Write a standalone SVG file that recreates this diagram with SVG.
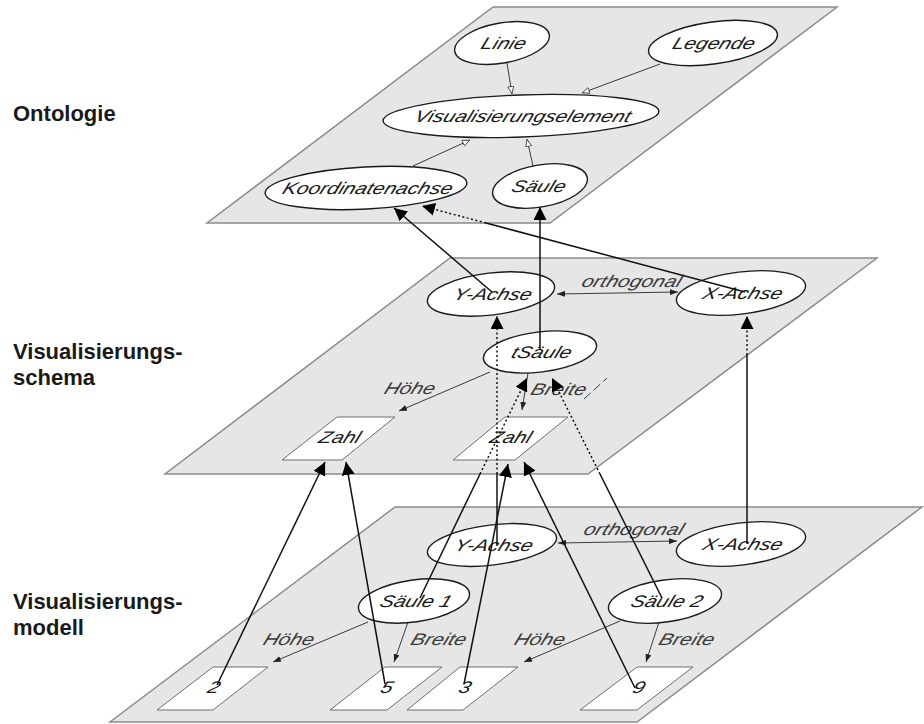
<svg xmlns="http://www.w3.org/2000/svg" width="924" height="724" viewBox="0 0 924 724">
  <style>
    .plane { fill: #e6e6e6; stroke: #8c8c8c; stroke-width: 1.5; }
    .node { fill: #ffffff; stroke: #1a1a1a; stroke-width: 1.4; }
    .box { fill: #ffffff; stroke: #6e6e6e; stroke-width: 1; }
    .nt { font-family: "Liberation Sans", Arial, sans-serif; font-size: 21px; font-style: italic; fill: #1a1a1a; text-anchor: middle; }
    .et { font-family: "Liberation Sans", Arial, sans-serif; font-size: 21px; font-style: italic; fill: #3a3a3a; text-anchor: middle; }
    .lv { font-family: "Liberation Sans", Arial, sans-serif; font-size: 22px; font-weight: bold; fill: #1a1a1a; }
    .link { stroke: #111; stroke-width: 1.5; fill: none; }
    .hid { stroke: #111; stroke-width: 1.5; fill: none; stroke-dasharray: 2 2.5; }
    .rel { stroke: #3a3a3a; stroke-width: 1; fill: none; }
    .dash { stroke: #3a3a3a; stroke-width: 1; fill: none; stroke-dasharray: 9 4; }
  </style>
  <defs>
    <marker id="big" viewBox="0 0 13 13" refX="13" refY="6.5" markerWidth="13" markerHeight="13" markerUnits="userSpaceOnUse" orient="auto">
      <path d="M0,0 L13,6.5 L0,13 Z" fill="#000"/>
    </marker>
    <marker id="sm" viewBox="0 0 8 6" refX="8" refY="3" markerWidth="8" markerHeight="6" markerUnits="userSpaceOnUse" orient="auto-start-reverse">
      <path d="M0,0 L8,3 L0,6 Z" fill="#222"/>
    </marker>
    <marker id="inh" viewBox="0 0 8 7" refX="8" refY="3.5" markerWidth="8" markerHeight="7" markerUnits="userSpaceOnUse" orient="auto">
      <path d="M0.5,0.5 L7.5,3.5 L0.5,6.5 Z" fill="#fff" stroke="#333" stroke-width="0.8"/>
    </marker>
  </defs>

  <rect width="924" height="724" fill="#ffffff"/>

  <!-- layer planes -->
  <g id="planes">
    <path class="plane" d="M493,7 L837,7 L550,223 L207,223 Z"/>
    <path class="plane" d="M450,258 L877,258 L588,474 L165,474 Z"/>
    <path class="plane" d="M395,507 L922,507 L637,722 L110,722 Z"/>
  </g>

  <!-- layer titles -->
  <g id="titles">
    <text class="lv" x="13" y="121">Ontologie</text>
    <text class="lv" x="13" y="359">Visualisierungs-</text>
    <text class="lv" x="13" y="385">schema</text>
    <text class="lv" x="13" y="609">Visualisierungs-</text>
    <text class="lv" x="13" y="635">modell</text>
  </g>

  <!-- relations lying in the planes -->
  <g id="relations">
    <line class="rel" x1="507" y1="63" x2="512" y2="94" marker-end="url(#inh)"/>
    <line class="rel" x1="660" y1="64" x2="582" y2="93" marker-end="url(#inh)"/>
    <line class="rel" x1="413" y1="166" x2="470" y2="140" marker-end="url(#inh)"/>
    <line class="rel" x1="533" y1="166" x2="527" y2="139" marker-end="url(#inh)"/>

    <line class="rel" x1="557" y1="294" x2="678" y2="292" marker-start="url(#sm)" marker-end="url(#sm)"/>
    <text class="et" transform="translate(630,287) skewX(-20) scale(1,0.8)">orthogonal</text>
    <line class="rel" x1="490" y1="372" x2="399" y2="411" marker-end="url(#sm)"/>
    <text class="et" transform="translate(408,394) skewX(-20) scale(1,0.8)">Höhe</text>
    <line class="rel" x1="528" y1="373" x2="522" y2="410" marker-end="url(#sm)"/>
    <text class="et" transform="translate(557,395) skewX(-20) scale(1,0.8)">Breite</text>
    <line class="dash" x1="584" y1="399" x2="607" y2="378"/>

    <line class="rel" x1="558" y1="543" x2="677" y2="541" marker-start="url(#sm)" marker-end="url(#sm)"/>
    <text class="et" transform="translate(632,535) skewX(-20) scale(1,0.8)">orthogonal</text>
    <line class="rel" x1="368" y1="622" x2="273" y2="662" marker-end="url(#sm)"/>
    <text class="et" transform="translate(287,645) skewX(-20) scale(1,0.8)">Höhe</text>
    <line class="rel" x1="408" y1="622" x2="394" y2="662" marker-end="url(#sm)"/>
    <text class="et" transform="translate(437,645) skewX(-20) scale(1,0.8)">Breite</text>
    <line class="rel" x1="620" y1="621" x2="524" y2="662" marker-end="url(#sm)"/>
    <text class="et" transform="translate(538,645) skewX(-20) scale(1,0.8)">Höhe</text>
    <line class="rel" x1="659" y1="622" x2="646" y2="662" marker-end="url(#sm)"/>
    <text class="et" transform="translate(685,645) skewX(-20) scale(1,0.8)">Breite</text>
  </g>

  <!-- ontology nodes -->
  <g id="linie">
    <ellipse class="node" cx="502" cy="43" rx="48" ry="20" transform="rotate(-10 502 43)"/>
    <text class="nt" transform="translate(502,49) skewX(-20) scale(1,0.8)">Linie</text>
  </g>
  <g id="legende">
    <ellipse class="node" cx="713" cy="43" rx="65" ry="21" transform="rotate(-8 713 43)"/>
    <text class="nt" transform="translate(712,49) skewX(-20) scale(1,0.8)">Legende</text>
  </g>
  <g id="visualisierungselement">
    <ellipse class="node" cx="521" cy="116" rx="138" ry="21" transform="rotate(-2 521 116)"/>
    <text class="nt" transform="translate(521,122) skewX(-20) scale(1,0.8)">Visualisierungselement</text>
  </g>
  <g id="koordinatenachse">
    <ellipse class="node" cx="366" cy="188" rx="101" ry="21" transform="rotate(-3 366 188)"/>
    <text class="nt" transform="translate(366,194) skewX(-20) scale(1,0.8)">Koordinatenachse</text>
  </g>
  <g id="saeule">
    <ellipse class="node" cx="540" cy="186" rx="48" ry="21" transform="rotate(-10 540 186)"/>
    <text class="nt" transform="translate(537,192) skewX(-20) scale(1,0.8)">Säule</text>
  </g>

  <!-- schema nodes -->
  <g id="schema-y-achse">
    <ellipse class="node" cx="491" cy="294" rx="64" ry="21" transform="rotate(-7 491 294)"/>
    <text class="nt" transform="translate(491,300) skewX(-20) scale(1,0.8)">Y-Achse</text>
  </g>
  <g id="schema-x-achse">
    <ellipse class="node" cx="741" cy="293" rx="65" ry="21" transform="rotate(-7 741 293)"/>
    <text class="nt" transform="translate(741,299) skewX(-20) scale(1,0.8)">X-Achse</text>
  </g>
  <g id="schema-saeule">
    <ellipse class="node" cx="540" cy="352" rx="57" ry="20" transform="rotate(-7 540 352)"/>
    <text class="nt" transform="translate(540,358) skewX(-20) scale(1,0.8)">tSäule</text>
  </g>
  <g id="schema-zahl-hoehe">
    <path class="box" d="M337,417 L395,417 L342,460 L282,460 Z"/>
    <text class="nt" transform="translate(338,443) skewX(-20) scale(1,0.8)">Zahl</text>
  </g>
  <g id="schema-zahl-breite">
    <path class="box" d="M505,417 L568,417 L515,460 L453,460 Z"/>
    <text class="nt" transform="translate(509,443) skewX(-20) scale(1,0.8)">Zahl</text>
  </g>

  <!-- model nodes -->
  <g id="model-y-achse">
    <ellipse class="node" cx="492" cy="545" rx="65" ry="20" transform="rotate(-7 492 545)"/>
    <text class="nt" transform="translate(492,551) skewX(-20) scale(1,0.8)">Y-Achse</text>
  </g>
  <g id="model-x-achse">
    <ellipse class="node" cx="741" cy="544" rx="65" ry="21" transform="rotate(-7 741 544)"/>
    <text class="nt" transform="translate(741,550) skewX(-20) scale(1,0.8)">X-Achse</text>
  </g>
  <g id="model-saeule-1">
    <ellipse class="node" cx="414" cy="601" rx="56" ry="21" transform="rotate(-8 414 601)"/>
    <text class="nt" transform="translate(414,607) skewX(-20) scale(1,0.8)">Säule 1</text>
  </g>
  <g id="model-saeule-2">
    <ellipse class="node" cx="665" cy="601" rx="57" ry="21" transform="rotate(-8 665 601)"/>
    <text class="nt" transform="translate(665,607) skewX(-20) scale(1,0.8)">Säule 2</text>
  </g>
  <g id="wert-2">
    <path class="box" d="M213,667 L268,667 L213,710 L157,710 Z"/>
    <text class="nt" transform="translate(212,693) skewX(-20) scale(1,0.8)">2</text>
  </g>
  <g id="wert-5">
    <path class="box" d="M385,667 L442,667 L387,710 L330,710 Z"/>
    <text class="nt" transform="translate(385,693) skewX(-20) scale(1,0.8)">5</text>
  </g>
  <g id="wert-3">
    <path class="box" d="M460,667 L518,667 L463,710 L407,710 Z"/>
    <text class="nt" transform="translate(463,693) skewX(-20) scale(1,0.8)">3</text>
  </g>
  <g id="wert-9">
    <path class="box" d="M637,667 L693,667 L637,710 L580,710 Z"/>
    <text class="nt" transform="translate(637,693) skewX(-20) scale(1,0.8)">9</text>
  </g>

  <!-- instance-of connectors between the layers (dotted where hidden by a plane) -->
  <g id="connectors">
    <line class="link" x1="492" y1="292" x2="394" y2="208" marker-end="url(#big)"/>
    <line class="link" x1="745" y1="292" x2="486" y2="223"/>
    <line class="hid" x1="486" y1="223" x2="422" y2="206" marker-end="url(#big)"/>
    <line class="link" x1="540" y1="350" x2="540" y2="207" marker-end="url(#big)"/>

    <line class="link" x1="497" y1="546" x2="497" y2="474"/>
    <line class="hid" x1="497" y1="474" x2="497" y2="316" marker-end="url(#big)"/>
    <line class="link" x1="747" y1="544" x2="747" y2="355"/>
    <line class="hid" x1="747" y1="355" x2="747" y2="316" marker-end="url(#big)"/>

    <line class="link" x1="217" y1="685" x2="325" y2="462" marker-end="url(#big)"/>
    <line class="link" x1="385" y1="684" x2="346" y2="462" marker-end="url(#big)"/>
    <line class="link" x1="464" y1="684" x2="508" y2="464" marker-end="url(#big)"/>
    <line class="link" x1="635" y1="688" x2="524" y2="462" marker-end="url(#big)"/>

    <line class="link" x1="420" y1="598" x2="480" y2="474"/>
    <line class="hid" x1="480" y1="474" x2="527" y2="378" marker-end="url(#big)"/>
    <line class="link" x1="662" y1="598" x2="600" y2="474"/>
    <line class="hid" x1="600" y1="474" x2="552" y2="378" marker-end="url(#big)"/>
  </g>
</svg>
